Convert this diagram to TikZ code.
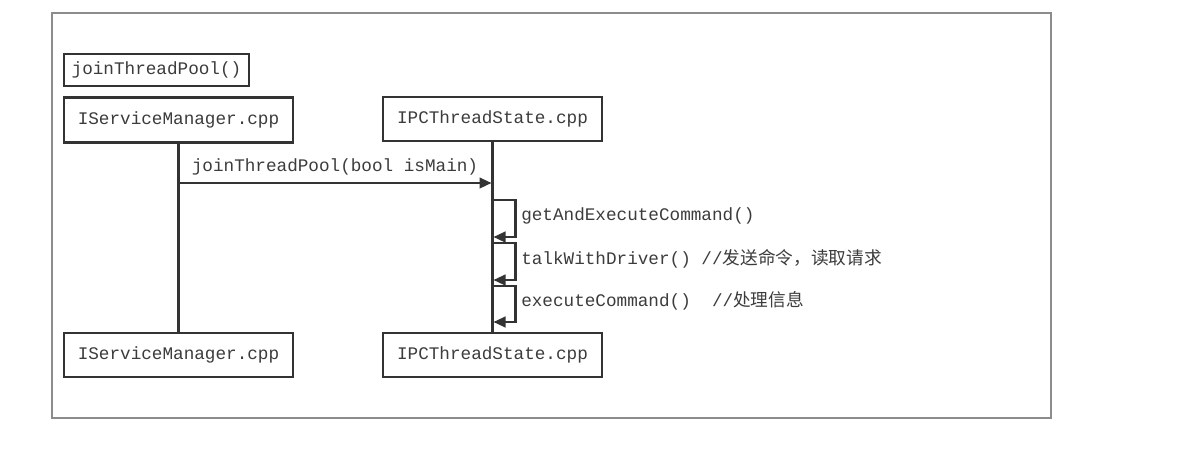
\documentclass[tikz,border=0pt]{standalone}
\usepackage{fontspec}
\setmonofont{Liberation Mono}
\newfontfamily\cjk{Noto Sans CJK SC}
\usetikzlibrary{positioning,arrows.meta}

\definecolor{inkgray}{HTML}{333333}
\definecolor{textgray}{HTML}{3C3C3C}
\definecolor{framegray}{HTML}{8C8C8C}
\tikzset{
  codefont/.style={font=\ttfamily\fontsize{13.25}{16}\selectfont},
  objbox/.style={rectangle, draw=inkgray, line width=1.8pt, fill=white, text=textgray, inner sep=0pt, codefont},
  lifeline/.style={draw=inkgray, line width=1.6pt},
  msg/.style={draw=inkgray, line width=1.6pt, -{Triangle[length=9pt,width=8pt]}},
  msglabel/.style={text=textgray, inner sep=0pt, codefont}
}

\begin{document}
\begin{tikzpicture}[x=0.75pt, y=-0.75pt]
  \useasboundingbox (0,0) rectangle (1179,469);
  % frame
  \draw[framegray, line width=0.8pt] (52,13) rectangle (1051,418);

  % title
  \node[objbox, minimum width=138.75pt, minimum height=24pt](JoinTitle) at (156.5,70){joinThreadPool()};

  % objects
  \node[objbox, minimum width=171.75pt, minimum height=33.5pt](ManagerTop) at (178.5,120){IServiceManager.cpp};
  \node[objbox, minimum width=164.25pt, minimum height=33pt](StateTop) at (492.5,119){IPCThreadState.cpp};
  \node[objbox, minimum width=171.75pt, minimum height=33pt](ManagerBottom) at (178.5,355){IServiceManager.cpp};
  \node[objbox, minimum width=164.25pt, minimum height=33pt](StateBottom) at (492.5,355){IPCThreadState.cpp};

  % lifelines
  \draw[lifeline] (ManagerTop) -- (ManagerBottom);
  \draw[lifeline] (StateTop) -- (StateBottom);

  % joinThreadPool call
  \coordinate (CallFrom) at (178.5,183);
  \coordinate (CallTo) at (491.5,183);
  \draw[msg] (CallFrom) -- node[msglabel, above=5pt]{joinThreadPool(bool isMain)} (CallTo);

  % self calls
  \coordinate (GetOut) at (492.5,200);
  \coordinate (GetIn) at (493.5,237);
  \draw[msg] (GetOut) -- ++(23,0) |- (GetIn);
  \node[msglabel, anchor=west](GetLabel) at (521,216){getAndExecuteCommand()};

  \coordinate (TalkOut) at (492.5,243);
  \coordinate (TalkIn) at (493.5,280);
  \draw[msg] (TalkOut) -- ++(23,0) |- (TalkIn);
  \node[msglabel, anchor=west](TalkLabel) at (521,259){talkWithDriver() //{\cjk 发送命令，读取请求}};

  \coordinate (ExecOut) at (492.5,286);
  \coordinate (ExecIn) at (493.5,322);
  \draw[msg] (ExecOut) -- ++(23,0) |- (ExecIn);
  \node[msglabel, anchor=west](ExecLabel) at (521,301){executeCommand()\ \ //{\cjk 处理信息}};
\end{tikzpicture}
\end{document}
